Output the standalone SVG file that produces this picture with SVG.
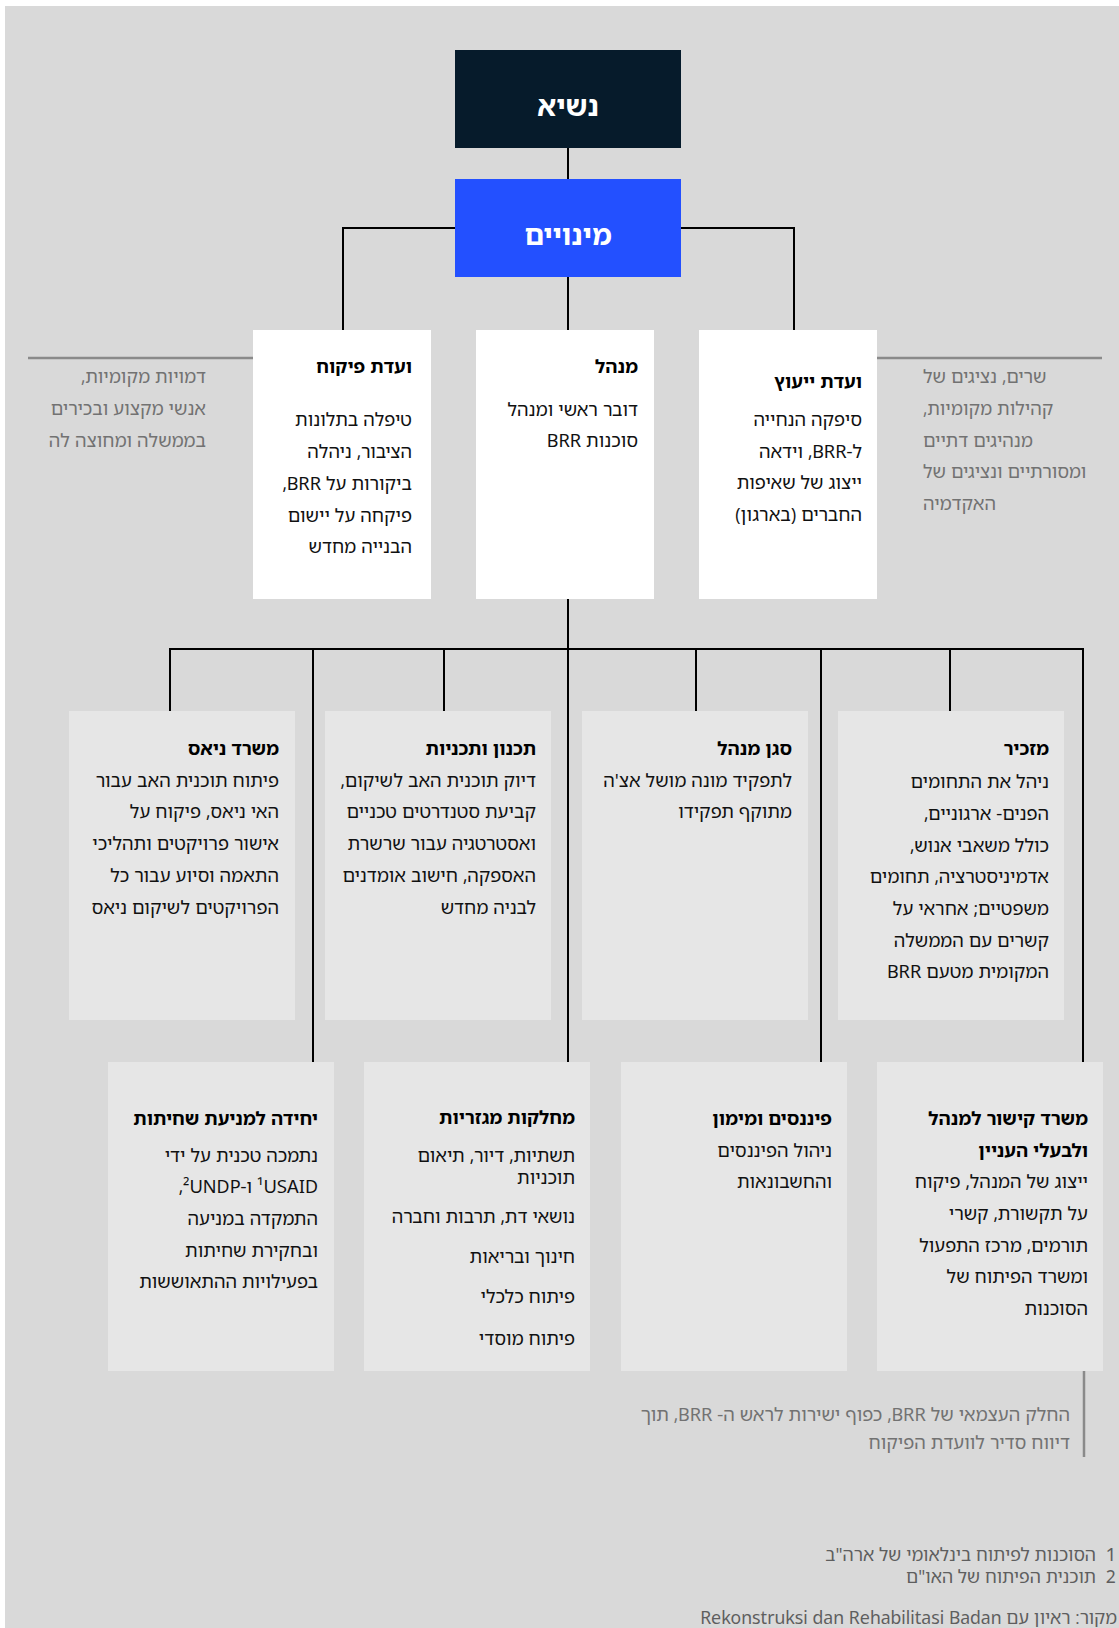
<svg xmlns="http://www.w3.org/2000/svg" width="1119" height="1628" viewBox="0 0 1119 1628">
<style>
text{font-family:"Noto Sans Hebrew","Open Sans","Noto Sans","Liberation Sans",sans-serif;direction:rtl;unicode-bidi:embed}
.body{font-size:18.4px;fill:#111;text-anchor:start}
.title{font-size:18.5px;font-weight:bold;fill:#000;text-anchor:start}
.side{font-size:18.4px;fill:#727272}
.big{font-size:28px;font-weight:bold;fill:#fff;text-anchor:middle}
.foot{font-size:17.8px;fill:#5e5e5e}
.white{fill:#fff}
.lite{fill:#e6e6e6}
.conn path{fill:none;stroke:#000;stroke-width:2}
.gl{fill:none;stroke:#8a8a8a;stroke-width:2.5}
</style>
<rect x="5" y="6" width="1114" height="1622" fill="#d9d9d9"/>

<g id="connectors" class="conn">
<path d="M568 148V179"/>
<path d="M343 330V228H794V330"/>
<path d="M568 277V330"/>
<path d="M568 599V1062"/>
<path d="M170 711V649H1083V1062"/>
<path d="M313 649V1062"/>
<path d="M444 649V711"/>
<path d="M696 649V711"/>
<path d="M821 649V1062"/>
<path d="M950 649V711"/>
</g>
<g id="side-lines">
<path class="gl" d="M28 358H253"/>
<path class="gl" d="M877 358H1102"/>
<path class="gl" d="M1084 1370V1457"/>
</g>

<g id="president">
<rect x="455" y="50" width="226" height="98" fill="#061b2b"/>
<text class="big" x="568" y="116">נשיא</text>
</g>
<g id="appointments">
<rect x="455" y="179" width="226" height="98" fill="#2350ff"/>
<text class="big" x="568" y="245">מינויים</text>
</g>

<g id="supervisory-board">
<rect class="white" x="253" y="330" width="178" height="269"/>
<text class="title" x="412" y="373">ועדת פיקוח</text>
<text class="body" x="412" y="426">טיפלה בתלונות</text>
<text class="body" x="412" y="458">הציבור, ניהלה</text>
<text class="body" x="412" y="490">ביקורות על BRR,</text>
<text class="body" x="412" y="522">פיקחה על יישום</text>
<text class="body" x="412" y="553">הבנייה מחדש</text>
</g>
<g id="supervisory-note">
<text class="side" x="206" y="383" text-anchor="start">דמויות מקומיות,</text>
<text class="side" x="206" y="415" text-anchor="start">אנשי מקצוע ובכירים</text>
<text class="side" x="206" y="447" text-anchor="start">בממשלה ומחוצה לה</text>
</g>

<g id="director">
<rect class="white" x="476" y="330" width="178" height="269"/>
<text class="title" x="638" y="373">מנהל</text>
<text class="body" x="638" y="416">דובר ראשי ומנהל</text>
<text class="body" x="638" y="447">סוכנות BRR</text>
</g>

<g id="advisory-board">
<rect class="white" x="699" y="330" width="178" height="269"/>
<text class="title" x="862" y="388">ועדת ייעוץ</text>
<text class="body" x="862" y="426">סיפקה הנחייה</text>
<text class="body" x="862" y="458">ל-BRR, וידאה</text>
<text class="body" x="862" y="489">ייצוג של שאיפות</text>
<text class="body" x="862" y="521">החברים (בארגון)</text>
</g>
<g id="advisory-note">
<text class="side" x="923" y="383" text-anchor="end">שרים, נציגים של</text>
<text class="side" x="923" y="415" text-anchor="end">קהילות מקומיות,</text>
<text class="side" x="923" y="447" text-anchor="end">מנהיגים דתיים</text>
<text class="side" x="923" y="478" text-anchor="end">ומסורתיים ונציגים של</text>
<text class="side" x="923" y="510" text-anchor="end">האקדמיה</text>
</g>

<g id="nias-office">
<rect class="lite" x="69" y="711" width="226" height="309"/>
<text class="title" x="279" y="755">משרד ניאס</text>
<text class="body" x="279" y="787">פיתוח תוכנית האב עבור</text>
<text class="body" x="279" y="818">האי ניאס, פיקוח על</text>
<text class="body" x="279" y="850">אישור פרויקטים ותהליכי</text>
<text class="body" x="279" y="882">התאמה וסיוע עבור כל</text>
<text class="body" x="279" y="914">הפרויקטים לשיקום ניאס</text>
</g>

<g id="planning">
<rect class="lite" x="325" y="711" width="226" height="309"/>
<text class="title" x="536" y="755">תכנון ותכניות</text>
<text class="body" x="536" y="787">דיוק תוכנית האב לשיקום,</text>
<text class="body" x="536" y="818">קביעת סטנדרטים טכניים</text>
<text class="body" x="536" y="850">ואסטרטגיה עבור שרשרת</text>
<text class="body" x="536" y="882">האספקה, חישוב אומדנים</text>
<text class="body" x="536" y="914">לבניה מחדש</text>
</g>

<g id="deputy-director">
<rect class="lite" x="582" y="711" width="226" height="309"/>
<text class="title" x="792" y="755">סגן מנהל</text>
<text class="body" x="792" y="787">לתפקיד מונה מושל אצ'ה</text>
<text class="body" x="792" y="818">מתוקף תפקידו</text>
</g>

<g id="secretary">
<rect class="lite" x="838" y="711" width="226" height="309"/>
<text class="title" x="1049" y="755">מזכיר</text>
<text class="body" x="1049" y="788">ניהל את התחומים</text>
<text class="body" x="1049" y="820">הפנים- ארגוניים,</text>
<text class="body" x="1049" y="852">כולל משאבי אנוש,</text>
<text class="body" x="1049" y="883">אדמיניסטרציה, תחומים</text>
<text class="body" x="1049" y="915">משפטיים; אחראי על</text>
<text class="body" x="1049" y="947">קשרים עם הממשלה</text>
<text class="body" x="1049" y="978">המקומית מטעם BRR</text>
</g>

<g id="anti-corruption">
<rect class="lite" x="108" y="1062" width="226" height="309"/>
<text class="title" x="318" y="1125">יחידה למניעת שחיתות</text>
<text class="body" x="318" y="1162">נתמכה טכנית על ידי</text>
<text class="body" x="318" y="1193">USAID&#x200F;¹ ו-UNDP&#x200F;²,</text>
<text class="body" x="318" y="1225">התמקדה במניעה</text>
<text class="body" x="318" y="1257">ובחקירת שחיתות</text>
<text class="body" x="318" y="1288">בפעילויות ההתאוששות</text>
</g>

<g id="sector-departments">
<rect class="lite" x="364" y="1062" width="226" height="309"/>
<text class="title" x="575" y="1124">מחלקות מגזריות</text>
<text class="body" x="575" y="1162">תשתיות, דיור, תיאום</text>
<text class="body" x="575" y="1184">תוכניות</text>
<text class="body" x="575" y="1223">נושאי דת, תרבות וחברה</text>
<text class="body" x="575" y="1263">חינוך ובריאות</text>
<text class="body" x="575" y="1303">פיתוח כלכלי</text>
<text class="body" x="575" y="1345">פיתוח מוסדי</text>
</g>

<g id="finance">
<rect class="lite" x="621" y="1062" width="226" height="309"/>
<text class="title" x="832" y="1125">פיננסים ומימון</text>
<text class="body" x="832" y="1157">ניהול הפיננסים</text>
<text class="body" x="832" y="1188">והחשבונאות</text>
</g>

<g id="liaison-office">
<rect class="lite" x="877" y="1062" width="226" height="309"/>
<text class="title" x="1088" y="1125">משרד קישור למנהל</text>
<text class="title" x="1088" y="1157">ולבעלי העניין</text>
<text class="body" x="1088" y="1188">ייצוג של המנהל, פיקוח</text>
<text class="body" x="1088" y="1220">על תקשורת, קשרי</text>
<text class="body" x="1088" y="1252">תורמים, מרכז התפעול</text>
<text class="body" x="1088" y="1283">ומשרד הפיתוח של</text>
<text class="body" x="1088" y="1315">הסוכנות</text>
</g>
<g id="liaison-note">
<text class="side" x="1070" y="1421" text-anchor="start">החלק העצמאי של BRR, כפוף ישירות לראש ה- BRR, תוך</text>
<text class="side" x="1070" y="1449" text-anchor="start">דיווח סדיר לוועדת הפיקוח</text>
</g>

<g id="footnotes">
<text class="foot" x="1116" y="1561" text-anchor="start">1</text>
<text class="foot" x="1096" y="1561" text-anchor="start">הסוכנות לפיתוח בינלאומי של ארה"ב</text>
<text class="foot" x="1116" y="1583" text-anchor="start">2</text>
<text class="foot" x="1096" y="1583" text-anchor="start">תוכנית הפיתוח של האו"ם</text>
<text class="foot" x="1117" y="1624" text-anchor="start">מקור: ראיון עם Rekonstruksi dan Rehabilitasi Badan</text>
</g>
</svg>
